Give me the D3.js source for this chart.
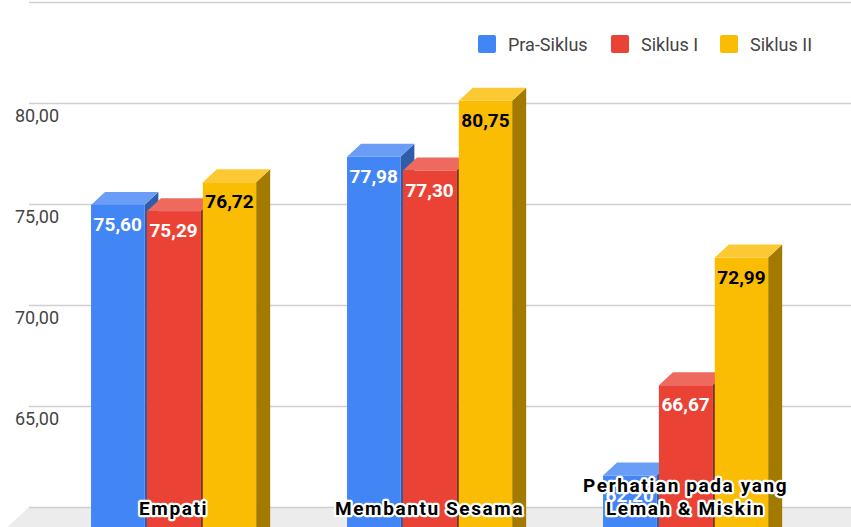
<!DOCTYPE html>
<html>
<head>
<meta charset="utf-8">
<script src="https://cdn.jsdelivr.net/npm/d3@7"></script>
<style>
  body { margin: 0; background: #fff; }
  svg { display: block; font-family: Roboto, "Noto Sans", sans-serif; }
</style>
</head>
<body>
<div id="chart-area"></div>
<script>
// data
var categories = ["Empati", "Membantu Sesama", "Perhatian pada yang Lemah & Miskin"];
var seriesNames = ["Pra-Siklus", "Siklus I", "Siklus II"];
var praSiklus = [75.60, 77.98, 62.20];
var siklusI = [75.29, 77.30, 66.67];
var siklusII = [76.72, 80.75, 72.99];
var tickValues = [65, 70, 75, 80];

var seriesValues = [praSiklus, siklusI, siklusII];

var width = 851, height = 527;
var depthX = 14, depthY = 13;   // 3d offset front -> back

// colours: front, top, side
var colors = [
  {front: "#4285f4", top: "#6a9ef6", side: "#2e5da9"},
  {front: "#ea4335", top: "#ee6a5f", side: "#8f2a20"},
  {front: "#fbbc04", top: "#fcc934", side: "#a37a00"}
];
var labelColors = ["#fff", "#fff", "#000"];

var svg = d3.select("#chart-area")
  .append("svg")
    .attr("width", width)
    .attr("height", height);

//scales
var y = d3.scaleLinear().domain([60, 85]).range([520, 15]);
var yBack = y.copy().range([520 - depthY, 15 - depthY]);

var x0 = d3.scaleBand()
  .domain(categories)
  .range([45.6, 813.6])
  .paddingInner(0.355)
  .paddingOuter(0.1775);

var x1 = d3.scaleBand()
  .domain(seriesNames)
  .range([0, x0.bandwidth()])
  .paddingInner(0.045);

var fmt = d3.formatLocale({decimal: ",", thousands: ".", grouping: [3], currency: ["", ""]}).format(".2f");

//floor
var floorY = yBack(60);
svg.append("path")
  .attr("d", "M29," + floorY + "L" + width + "," + floorY + "L" + width + "," + height +
             "L" + (29 - (height - floorY) * depthX / depthY) + "," + height + "Z")
  .attr("fill", "#ececec");

//gridlines (back plane)
var grid = svg.append("g")
  .attr("transform", "translate(29,0)")
  .call(d3.axisRight(yBack).tickValues([60, 65, 70, 75, 80, 85]).tickSize(width - 29).tickFormat(""));
grid.select(".domain").remove();
grid.selectAll("line").attr("stroke", "#d0d0d0").attr("stroke-width", 1.5);

//y labels (front plane)
var yAxis = svg.append("g")
  .attr("transform", "translate(59,0)")
  .call(d3.axisLeft(y).tickValues(tickValues).tickSize(0).tickPadding(0).tickFormat(fmt));
yAxis.select(".domain").remove();
yAxis.selectAll("text")
  .attr("font-family", "Roboto")
  .attr("font-size", "18px")
  .attr("fill", "#444");

//bars
var bars = [];
categories.forEach(function(cat, ci){
  seriesNames.forEach(function(s, si){
    bars.push({cat: cat, series: s, si: si, value: seriesValues[si][ci]});
  });
});

var barG = svg.append("g");
bars.forEach(function(d){
  var bx = x0(d.cat) + x1(d.series);
  var bw = x1.bandwidth();
  var ty = y(d.value);
  var by = height + 20; // front face runs past the bottom edge
  var c = colors[d.si];
  var g = barG.append("g");
  g.append("path")
    .attr("d", "M" + (bx + bw) + "," + ty + "L" + (bx + bw + depthX) + "," + (ty - depthY) +
               "L" + (bx + bw + depthX) + "," + (by - depthY) + "L" + (bx + bw) + "," + by + "Z")
    .attr("fill", c.side);
  g.append("path")
    .attr("d", "M" + bx + "," + ty + "L" + (bx + depthX) + "," + (ty - depthY) +
               "L" + (bx + bw + depthX) + "," + (ty - depthY) + "L" + (bx + bw) + "," + ty + "Z")
    .attr("fill", c.top);
  g.append("rect")
    .attr("x", bx)
    .attr("y", ty)
    .attr("width", bw)
    .attr("height", by - ty)
    .attr("fill", c.front);
  g.append("text")
    .attr("x", bx + bw / 2)
    .attr("y", ty + 26)
    .attr("text-anchor", "middle")
    .attr("font-size", "19px")
    .attr("font-weight", "bold")
    .attr("fill", labelColors[d.si])
    .text(fmt(d.value));
});

//category labels
var catG = svg.append("g");
categories.forEach(function(cat){
  var t = catG.append("text")
    .attr("x", x0(cat) + x0.bandwidth() / 2)
    .attr("y", 515)
    .attr("text-anchor", "middle")
    .attr("font-size", "19px")
    .attr("font-weight", "bold")
    .attr("letter-spacing", "1.6px")
    .attr("fill", "#000")
    .attr("stroke", "#fff")
    .attr("stroke-width", 4.5)
    .attr("stroke-linejoin", "round")
    .attr("paint-order", "stroke");
  wrap(t, cat, 230);
});

function wrap(textSel, str, maxW){
  var words = str.split(" ");
  var lines = [];
  var line = [];
  var probe = textSel.append("tspan");
  words.forEach(function(w){
    line.push(w);
    probe.text(line.join(" "));
    if (probe.node().getComputedTextLength() > maxW && line.length > 1) {
      line.pop();
      lines.push(line.join(" "));
      line = [w];
    }
  });
  lines.push(line.join(" "));
  probe.remove();
  var x = textSel.attr("x");
  var y0 = +textSel.attr("y") - (lines.length - 1) * 23;
  lines.forEach(function(l, i){
    textSel.append("tspan").attr("x", x).attr("y", y0 + i * 23).text(l);
  });
}

//legend
var legendX = [478, 611, 720];
var legend = svg.append("g");
seriesNames.forEach(function(s, i){
  var row = legend.append("g").attr("transform", "translate(" + legendX[i] + ",35)");
  row.append("rect")
    .attr("width", 18)
    .attr("height", 18)
    .attr("rx", 2)
    .attr("fill", colors[i].front);
  row.append("text")
    .attr("x", 30)
    .attr("y", 15.5)
    .attr("font-size", "18px")
    .attr("fill", "#444")
    .text(s);
});
</script>
</body>
</html>
